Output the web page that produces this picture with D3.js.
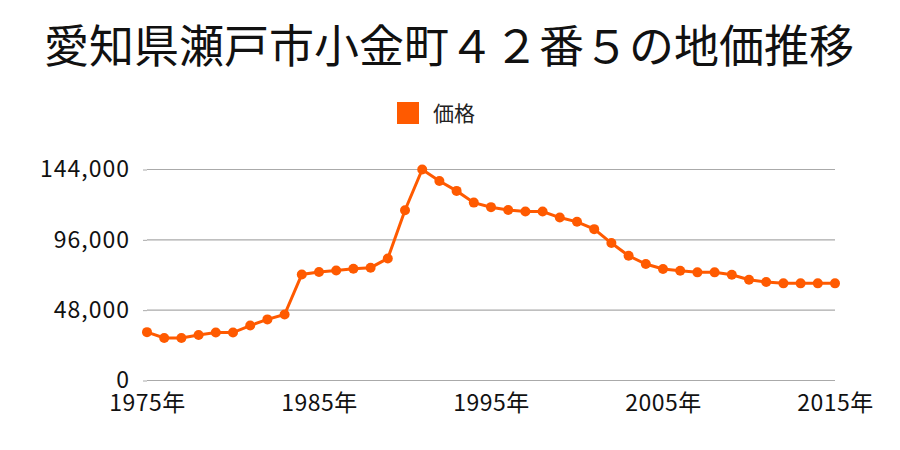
<!DOCTYPE html>
<html><head><meta charset="utf-8">
<script src="https://cdn.jsdelivr.net/npm/d3@7"></script>
<style>body{margin:0;background:#fff}svg{display:block}text{font-family:"Noto Sans CJK JP","Noto Sans",sans-serif}</style>
</head><body><svg id="c" width="900" height="450"></svg>
<script>
const title = "愛知県瀬戸市小金町４２番５の地価推移";
const seriesName = "価格";
const years = d3.range(1975, 2016);
const prices = [33000,29000,29000,31000,32700,32700,37500,41700,45000,72400,
  74000,75100,76300,77000,83300,116200,144000,136200,129400,121400,
  118300,116400,115300,115300,111200,108300,103300,93800,85100,79500,
  76100,74900,73800,73800,72200,68800,67200,66300,66300,66300,66300];
const yTicks = [0,48000,96000,144000];
const xTicks = [1975,1985,1995,2005,2015];

const svg = d3.select("#c");
const color = "#ff5a00";
const x = d3.scaleLinear().domain([1975,2015]).range([147,835]);
const y = d3.scaleLinear().domain([0,144000]).range([380.5,169.5]);

svg.append("text").attr("x",449).attr("y",63).attr("text-anchor","middle")
  .attr("font-size",45).attr("fill","#111").text(title);

svg.append("rect").attr("x",397).attr("y",102).attr("width",22).attr("height",22).attr("fill",color);
svg.append("text").attr("x",433).attr("y",121).attr("font-size",21).attr("fill","#222").text(seriesName);

svg.append("g").selectAll("line").data(yTicks).join("line")
  .attr("x1",147).attr("x2",835).attr("y1",d=>y(d)).attr("y2",d=>y(d))
  .attr("stroke","#aaa").attr("stroke-width",1.2);

const gy = svg.append("g").attr("transform","translate(147,0)")
  .call(d3.axisLeft(y).tickValues(yTicks).tickSize(4).tickPadding(13).tickFormat(d3.format(",")));
gy.select(".domain").remove();
gy.selectAll("line").attr("stroke","#aaa");
gy.selectAll("text").attr("font-size",23).attr("fill","#111").attr("letter-spacing",1)
  .attr("font-family",'"Noto Sans","Noto Sans CJK JP",sans-serif');

const gx = svg.append("g").attr("transform","translate(0,381)")
  .call(d3.axisBottom(x).tickValues(xTicks).tickSize(0).tickPadding(14).tickFormat(d=>d+"年"));
gx.select(".domain").remove();
gx.selectAll("text").attr("font-size",23).attr("fill","#111").attr("letter-spacing",0.5);

const data = years.map((yr,i)=>({yr,v:prices[i]}));
svg.append("path").datum(data).attr("fill","none").attr("stroke",color).attr("stroke-width",3)
  .attr("d",d3.line().x(d=>x(d.yr)).y(d=>y(d.v)));
svg.append("g").selectAll("circle").data(data).join("circle")
  .attr("cx",d=>x(d.yr)).attr("cy",d=>y(d.v)).attr("r",5).attr("fill",color);
</script></body></html>
